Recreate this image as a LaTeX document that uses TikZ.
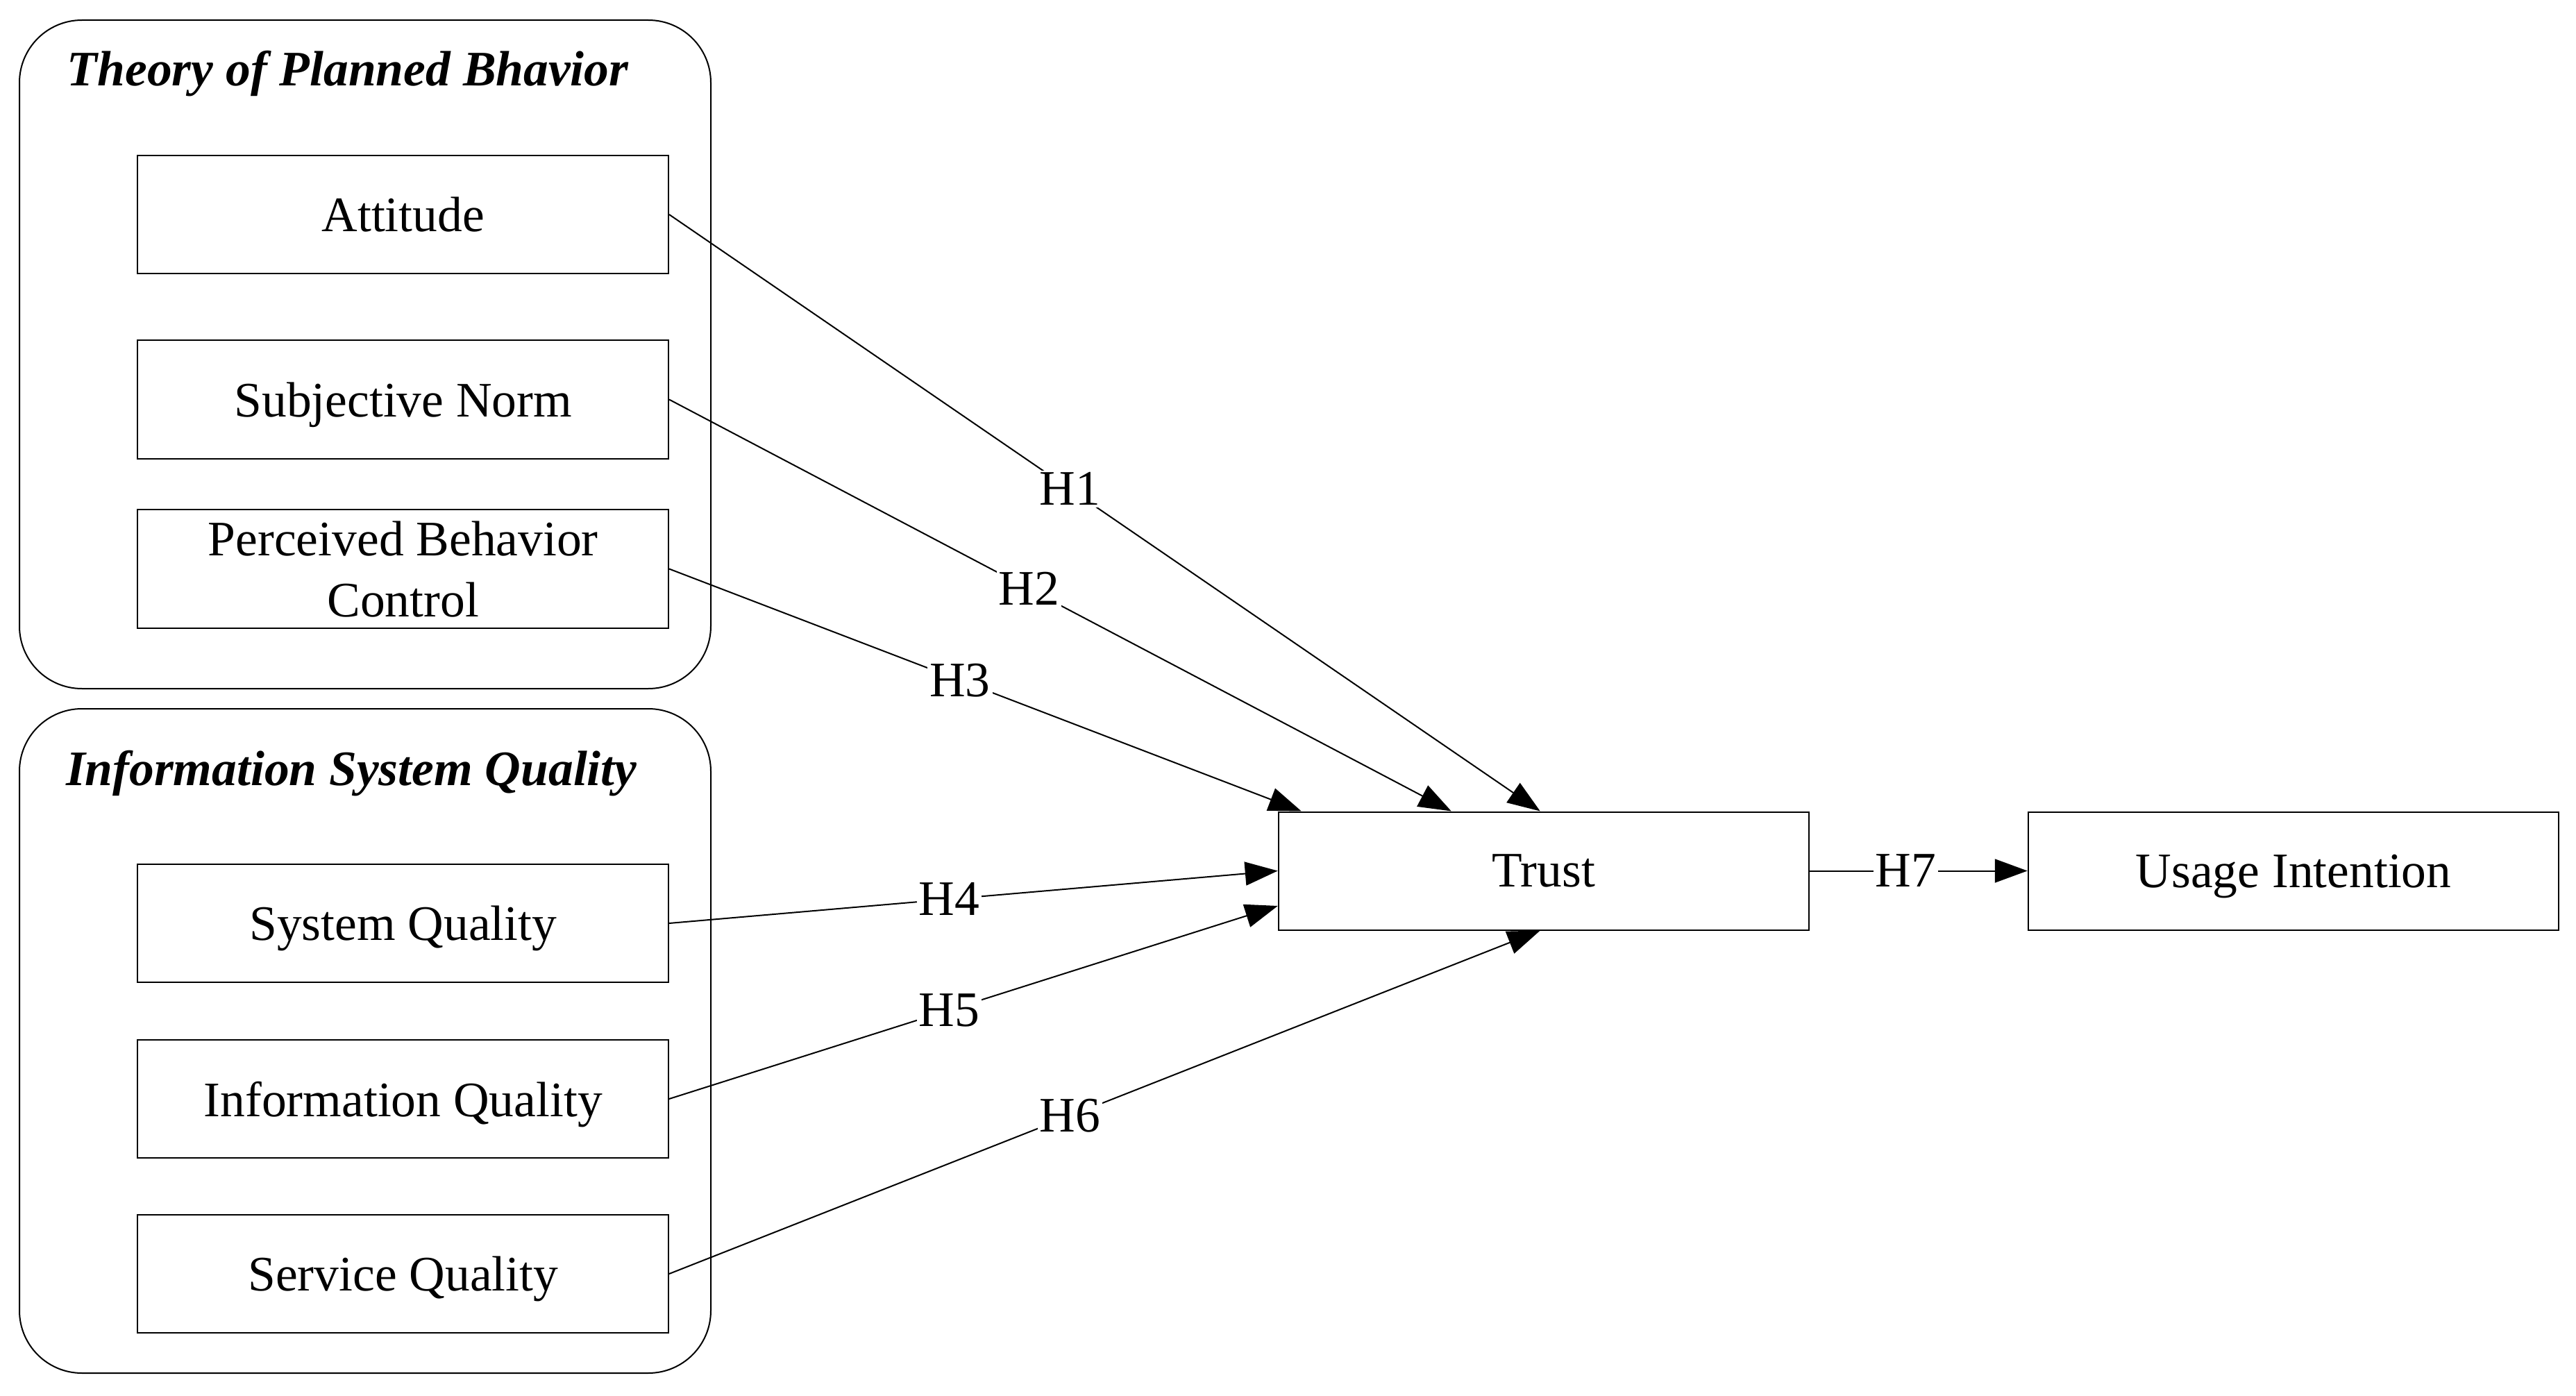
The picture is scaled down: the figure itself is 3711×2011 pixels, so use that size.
\documentclass[tikz,border=0pt]{standalone}
\usepackage{fontspec}
\setmainfont{Liberation Serif}
\usetikzlibrary{arrows.meta}
\begin{document}
\begin{tikzpicture}[x=0.2pt,y=-0.2pt,
  every node/.style={font=\fontsize{14.3}{17.6}\selectfont},
  var/.style={draw,line width=0.4pt,minimum width=152.9pt,minimum height=34pt,inner sep=0pt,align=center,text depth=0pt},
  grp/.style={draw,line width=0.4pt,rounded corners=18pt},
  grptitle/.style={anchor=base west,inner sep=0pt,font=\fontsize{14.3}{17.6}\selectfont\bfseries\itshape},
  hyp/.style={fill=white,inner sep=0.6pt,pos=0.46},
  link/.style={line width=0.4pt,-{Triangle[length=9.4pt,width=6.8pt]}}]
\useasboundingbox (0,0) rectangle (3711,2011);
% groups
\draw[grp] (28,29) rectangle (1024,992);
\draw[grp] (28,1021) rectangle (1024,1978);
\node[grptitle] (t1) at (96,124) {Theory of Planned Bhavior};
\node[grptitle] (t2) at (94,1131) {Information System Quality};
% variables
\node[var] (att) at (580.75,309) {Attitude};
\node[var] (sn) at (580.75,575.5) {Subjective Norm};
\node[var] (pbc) at (580.75,819.5) {Perceived Behavior\\Control};
\node[var] (sys) at (580.75,1330) {System Quality};
\node[var] (inf) at (580.75,1583) {Information Quality};
\node[var] (srv) at (580.75,1835) {Service Quality};
\node[var] (trust) at (2224,1254.5) {Trust};
\node[var] (use) at (3304,1254.5) {Usage Intention};
% connectors
\draw[link] (att.east) -- node[hyp] {H1} ([xshift=75.6pt]trust.north west);
\draw[link] (sn.east) -- node[hyp] {H2} ([xshift=50pt]trust.north west);
\draw[link] (pbc.east) -- node[hyp] {H3} ([xshift=6.8pt]trust.north west);
\draw[link] (sys.east) -- node[hyp] {H4} (trust.west);
\draw[link] (inf.east) -- node[hyp] {H5} ([yshift=-10.1pt]trust.west);
\draw[link] (srv.east) -- node[hyp] {H6} ([xshift=75.6pt]trust.south west);
\draw[link] (trust.east) -- node[hyp,pos=0.44] {H7} (use.west);
\end{tikzpicture}
\end{document}
